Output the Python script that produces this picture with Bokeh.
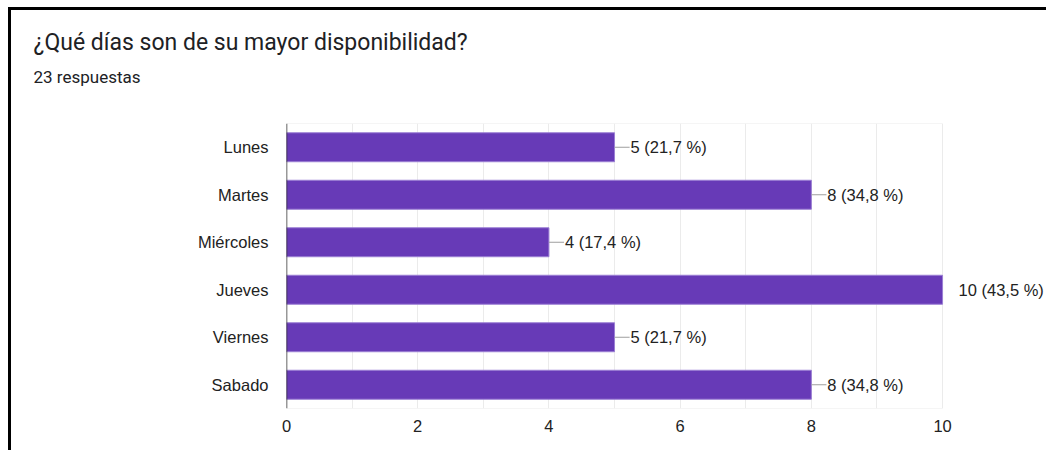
from bokeh.plotting import figure
from bokeh.models import ColumnDataSource, FactorRange, LabelSet, Span, FixedTicker, Title
from bokeh.core.properties import value
from bokeh.embed import file_html
from bokeh.resources import INLINE

title_text = "¿Qué días son de su mayor disponibilidad?"
subtitle_text = "23 respuestas"
days = ["Lunes", "Martes", "Miércoles", "Jueves", "Viernes", "Sabado"]
counts = [5, 8, 4, 10, 5, 8]
labels = ["5 (21,7 %)", "8 (34,8 %)", "4 (17,4 %)", "10 (43,5 %)", "5 (21,7 %)", "8 (34,8 %)"]
x_ticks = [0, 2, 4, 6, 8, 10]
x_max = 10

src = ColumnDataSource(dict(day=days, count=counts, label=labels,
                            lead=[c + 0.23 if c < x_max else c for c in counts]))

p = figure(width=1038, height=443, output_backend="svg", toolbar_location=None,
           y_range=FactorRange(factors=list(reversed(days))), x_range=(0, 11.63),
           min_border_left=275, min_border_right=0, min_border_top=113, min_border_bottom=45)
p.styles = {"border-top": "3px solid black", "border-left": "3px solid black",
            "margin-top": "7px", "margin-left": "8px"}
p.background_fill_color = "white"
p.border_fill_color = "white"
p.outline_line_color = None

p.xaxis.ticker = FixedTicker(ticks=x_ticks, minor_ticks=list(range(0, x_max + 1)))
p.xgrid.ticker = FixedTicker(ticks=list(range(0, x_max + 1)))
p.xgrid.grid_line_color = "#ebebeb"
p.ygrid.grid_line_color = None

# frame top / bottom edges of plot area (0..10)
p.segment(x0=[0, 0], x1=[x_max, x_max], y0=[(days[0], 0.5), (days[-1], -0.5)],
          y1=[(days[0], 0.5), (days[-1], -0.5)], line_color="#ebebeb", line_width=1)

p.hbar(y="day", right="count", left=0, height=0.61, source=src,
       fill_color="#673ab7", line_color="#9b7fd4", line_width=1)
p.segment(x0="count", x1="lead", y0="day", y1="day", source=src,
          line_color="#9e9e9e", line_width=1.2)
ls = LabelSet(x="count", y="day", text="label", source=src, x_offset=16, y_offset=0,
              text_font=value("Liberation Sans"), text_font_size="16.5px",
              text_color="#222222", text_baseline="middle", text_align="left")
p.add_layout(ls)

p.add_layout(Span(location=0, dimension="height", line_color="#333333", line_width=1.5))

for ax in (p.xaxis, p.yaxis):
    ax.axis_line_color = None
    ax.major_tick_line_color = None
    ax.minor_tick_line_color = None
    ax.major_label_text_font = "Liberation Sans"
    ax.major_label_text_font_size = "16.5px"
    ax.major_label_text_color = "#222222"
p.xaxis.major_label_standoff = 5
p.yaxis.major_label_standoff = 12

p.add_layout(Title(text=" ", text_font_size="10px", standoff=20), "above")
p.add_layout(Title(text=subtitle_text, text_font="Roboto", text_font_size="17px",
                   text_font_style="normal", text_color="#202124", align="left",
                   offset=-253, standoff=8), "above")
p.add_layout(Title(text=title_text, text_font="Roboto", text_font_size="23px",
                   text_font_style="normal", text_color="#202124", align="left",
                   offset=-253, standoff=10), "above")

open("out.html", "w").write(file_html(p, INLINE))
